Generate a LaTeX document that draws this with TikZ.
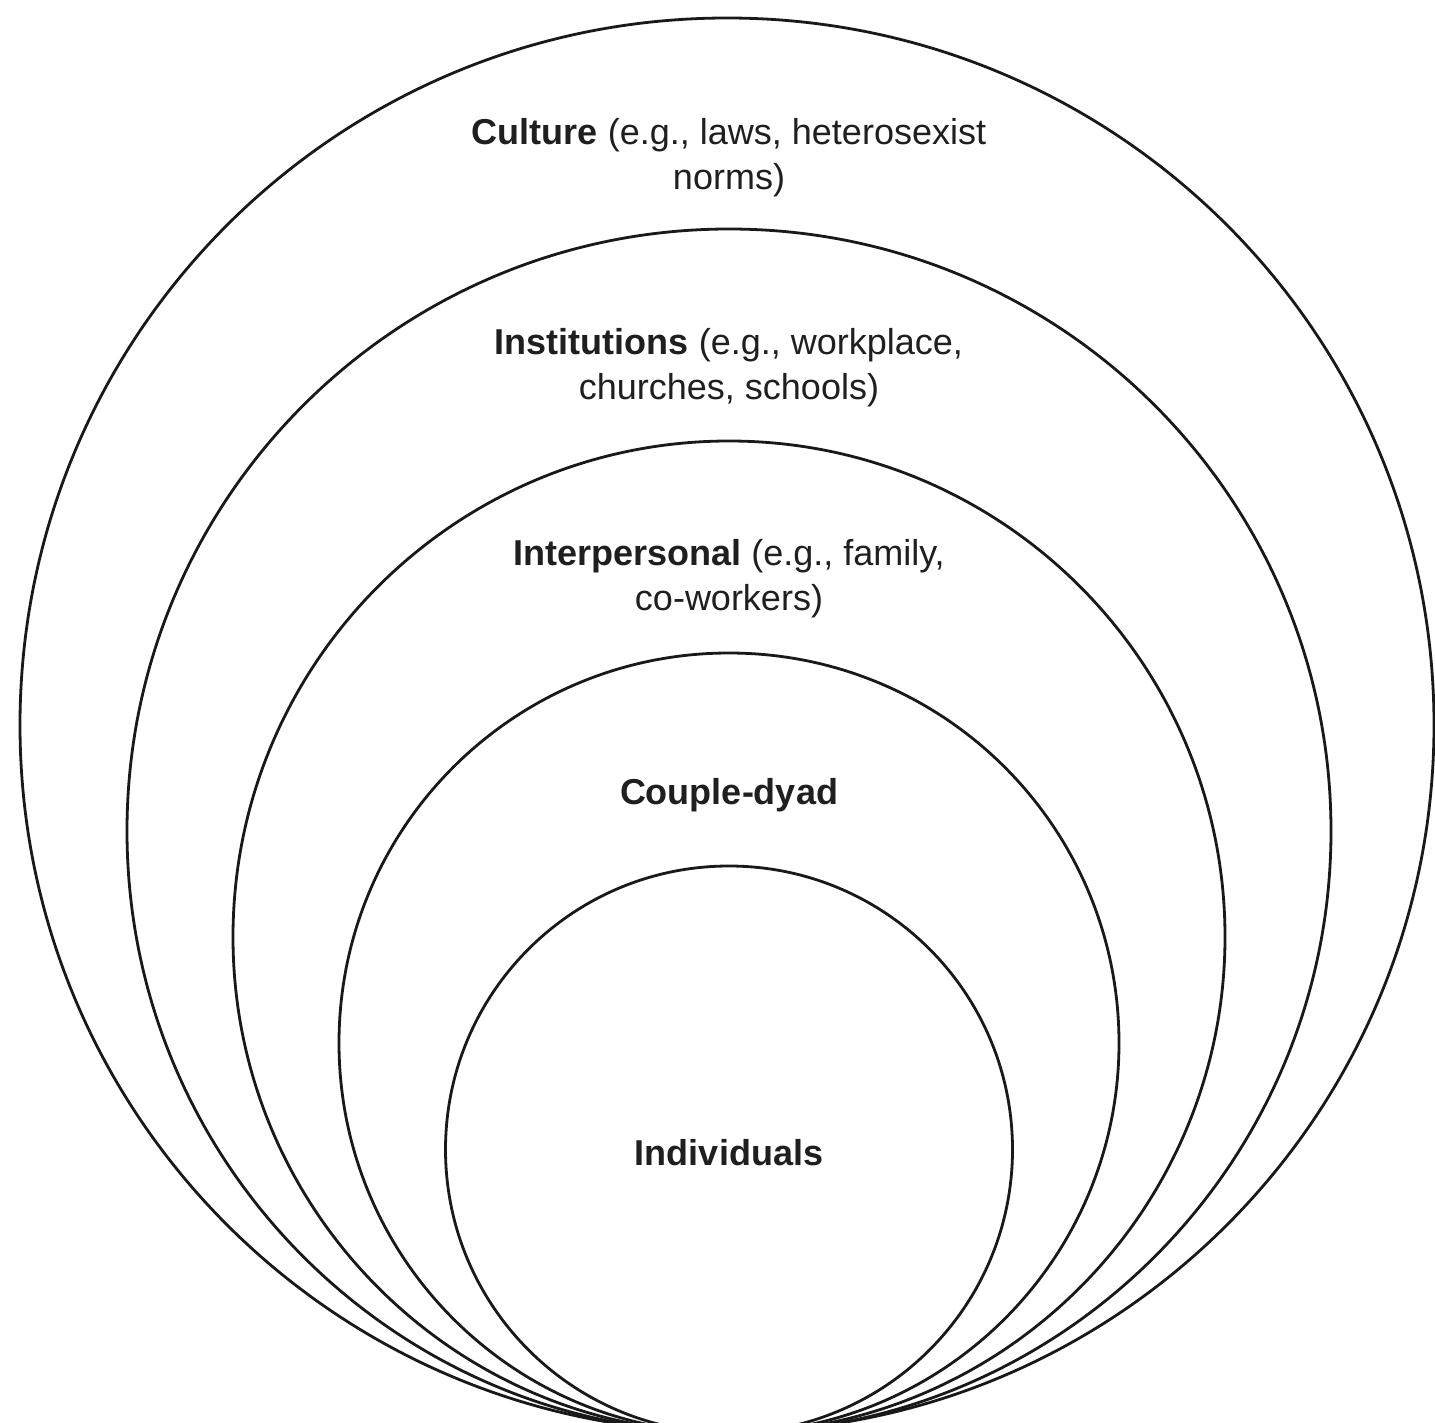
\documentclass[tikz,border=0pt]{standalone}
\usepackage{fontspec}
\setmainfont{Liberation Sans}
\begin{document}
\begin{tikzpicture}[x=0.5pt,y=-0.5pt,
  ring/.style={draw=black!90, line width=1.4pt, circle, inner sep=0pt},
  lbl/.style={align=center, font=\fontsize{18pt}{22.5pt}\selectfont, text=black!88, inner sep=0pt}]
\useasboundingbox (0,0) rectangle (1435,1423);
\fill[white] (0,0) rectangle (1435,1423);
\node[ring, minimum size=707pt] (culture) at (727,725) {};
\node[ring, minimum size=602pt] (inst) at (729,831) {};
\node[ring, minimum size=496pt] (inter) at (729,937) {};
\node[ring, minimum size=390pt] (couple) at (729,1043) {};
\node[ring, minimum size=283.5pt] (indiv) at (729,1149.5) {};
\node[lbl] (tculture) at (729,158) {\textbf{Culture} (e.g., laws, heterosexist\\norms)};
\node[lbl] (tinst) at (729,368) {\textbf{Institutions} (e.g., workplace,\\churches, schools)};
\node[lbl] (tinter) at (729,579) {\textbf{Interpersonal} (e.g., family,\\co-workers)};
\node[lbl] (tcouple) at (729,795) {\textbf{Couple-dyad}};
\node[lbl] (tindiv) at (729,1153) {\textbf{Individuals}};
\end{tikzpicture}
\end{document}
